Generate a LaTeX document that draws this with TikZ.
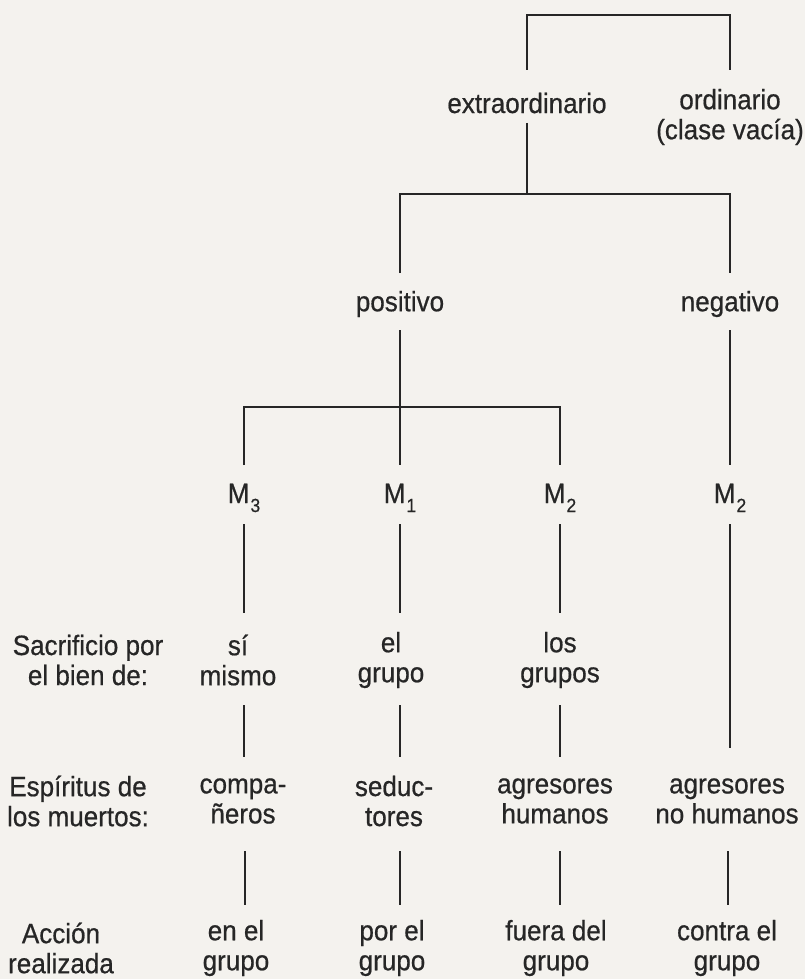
\documentclass[tikz,border=0pt]{standalone}
\usepackage{fontspec}
\setmainfont{Liberation Sans}[FakeStretch=0.93,FakeBold=0.6]
\usetikzlibrary{calc}
\definecolor{paper}{HTML}{F4F2EE}
\definecolor{ink}{HTML}{262626}
\newcommand\mysub[1]{\hspace{1pt}\raisebox{-9pt}{\fontsize{19}{19}\selectfont #1}}
\begin{document}
\begin{tikzpicture}[x=1pt,y=-1pt,
  lbl/.style={font=\fontsize{28}{30}\selectfont, text=ink, align=center, inner sep=0pt},
  conn/.style={draw=ink, line width=1.3pt}]
\fill[paper] (0,0) rectangle (805,979);
\useasboundingbox (0,0) rectangle (805,979);

% level 1
\node[lbl] (ext) at (527,103) {extraordinario};
\node[lbl] (ord) at (730,117) {ordinario\\(clase vacía)};
% level 2
\node[lbl] (pos) at (400,304) {positivo};
\node[lbl] (neg) at (730,304) {negativo};
% level 3
\node[lbl, anchor=base] (m3) at (244,503) {M\mysub{3}};
\node[lbl, anchor=base] (m1) at (400,503) {M\mysub{1}};
\node[lbl, anchor=base] (m2a) at (560,503) {M\mysub{2}};
\node[lbl, anchor=base] (m2b) at (730,503) {M\mysub{2}};
% row: sacrificio
\node[lbl] (s0) at (88,660) {Sacrificio por\\el bien de:};
\node[lbl] (s1) at (238,660) {sí\\mismo};
\node[lbl] (s2) at (391,660) {el\\grupo};
\node[lbl] (s3) at (560,660) {los\\grupos};
% row: espiritus
\node[lbl] (e0) at (78,801) {Espíritus de\\los muertos:};
\node[lbl] (e1) at (243,801) {compa-\\ñeros};
\node[lbl] (e2) at (394,801) {seduc-\\tores};
\node[lbl] (e3) at (555,801) {agresores\\humanos};
\node[lbl] (e4) at (727,801) {agresores\\no humanos};
% row: accion
\node[lbl] (a0) at (61,948) {Acción\\realizada};
\node[lbl] (a1) at (236,948) {en el\\grupo};
\node[lbl] (a2) at (392,948) {por el\\grupo};
\node[lbl] (a3) at (556,948) {fuera del\\grupo};
\node[lbl] (a4) at (727,948) {contra el\\grupo};

% top bracket
\coordinate (top) at (629,15);
\draw[conn] ($(ext)+(0,-33)$) |- (top) -| ($(ord)+(0,-47)$);
% extraordinario -> positivo / negativo
\coordinate (b2) at (527,194);
\draw[conn] ($(ext)+(0,20)$) -- (b2);
\draw[conn] ($(pos)+(0,-31)$) |- (b2) -| ($(neg)+(0,-31)$);
% positivo -> M3, M1, M2
\coordinate (b3) at (400,407);
\draw[conn] ($(pos)+(0,26)$) -- ($(m1.base)+(0,-38)$);
\draw[conn] ($(m3.base)+(0,-38)$) |- (b3) -| ($(m2a.base)+(0,-38)$);
% negativo -> M2
\draw[conn] ($(neg)+(0,26)$) -- ($(m2b.base)+(0,-38)$);
% M -> sacrificio row
\draw[conn] ($(m3.base)+(0,21)$) -- ($(m3.base|-s1)+(0,-47)$);
\draw[conn] ($(m1.base)+(0,21)$) -- ($(m1.base|-s2)+(0,-47)$);
\draw[conn] ($(m2a.base)+(0,21)$) -- ($(m2a.base|-s3)+(0,-47)$);
\draw[conn] ($(m2b.base)+(0,21)$) -- ($(m2b.base|-e4)+(0,-53)$);
% sacrificio -> espiritus row
\draw[conn] ($(m3.base|-s1)+(0,45)$) -- ($(m3.base|-e1)+(0,-44)$);
\draw[conn] ($(m1.base|-s2)+(0,45)$) -- ($(m1.base|-e2)+(0,-44)$);
\draw[conn] ($(m2a.base|-s3)+(0,45)$) -- ($(m2a.base|-e3)+(0,-44)$);
% espiritus -> accion row
\draw[conn] ($(m3.base|-e1)+(1,50)$) -- ($(m3.base|-a1)+(1,-43)$);
\draw[conn] ($(m1.base|-e2)+(0,50)$) -- ($(m1.base|-a2)+(0,-43)$);
\draw[conn] ($(m2a.base|-e3)+(0,50)$) -- ($(m2a.base|-a3)+(0,-43)$);
\draw[conn] ($(m2b.base|-e4)+(-2,50)$) -- ($(m2b.base|-a4)+(-2,-43)$);
\end{tikzpicture}
\end{document}
